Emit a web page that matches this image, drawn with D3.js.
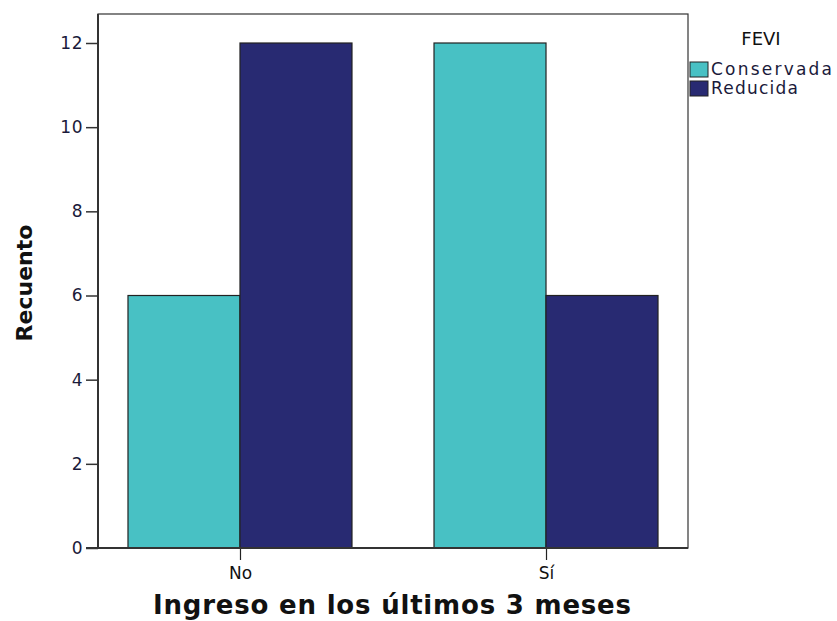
<!DOCTYPE html>
<html><head><meta charset="utf-8">
<script src="https://cdn.jsdelivr.net/npm/d3@7"></script>
<style>body{margin:0;background:#fff}svg{display:block}</style>
</head><body><svg id="c" width="837" height="621"></svg>
<script>
const categories = ["No", "Sí"];
const seriesNames = ["Conservada", "Reducida"];
const conservada = [6, 12];
const reducida = [12, 6];
const yTicks = [0, 2, 4, 6, 8, 10, 12];
const colors = ["#48C1C4", "#282A72"];

const svg = d3.select("#c");
const L = 98, R = 688, T = 14, B = 548;
const x = d3.scalePoint().domain(categories).range([L, R]).padding(0.464);
const y = d3.scaleLinear().domain([0, 12]).range([B, 43]);
const barW = 112;
const vals = [conservada, reducida];

// frame
svg.append("rect").attr("x", L).attr("y", T).attr("width", R - L).attr("height", B - T)
  .attr("fill", "#fff").attr("stroke", "#333").attr("stroke-width", 1.2);

// bars
seriesNames.forEach((s, si) => {
  svg.append("g").selectAll("rect").data(categories).join("rect")
    .attr("x", c => x(c) + (si === 0 ? -barW : 0))
    .attr("y", (c, i) => y(vals[si][i]))
    .attr("width", barW)
    .attr("height", (c, i) => y(0) - y(vals[si][i]))
    .attr("fill", colors[si]).attr("stroke", "#222").attr("stroke-width", 1.2);
});

// y axis
const ya = svg.append("g").attr("transform", `translate(${L},0)`)
  .call(d3.axisLeft(y).tickValues(yTicks).tickSize(12).tickPadding(3).tickFormat(d3.format("d")));
ya.select(".domain").attr("stroke", "#333").attr("stroke-width", 2).attr("d", `M0,${T}V${B}`);
ya.selectAll(".tick line").attr("stroke", "#333").attr("stroke-width", 1.5);
ya.selectAll("text").attr("font-family", "DejaVu Sans").attr("font-size", 17)
  .attr("fill", "#1a1a3a").attr("letter-spacing", 0.5);

// x axis
const xa = svg.append("g").attr("transform", `translate(0,${B})`)
  .call(d3.axisBottom(x).tickSize(12).tickPadding(7));
xa.select(".domain").remove();
xa.selectAll(".tick line").attr("stroke", "#222").attr("stroke-width", 1.2);
xa.selectAll("text").attr("font-family", "DejaVu Sans").attr("font-size", 17).attr("fill", "#111");
svg.append("line").attr("x1", L - 12).attr("x2", R).attr("y1", B).attr("y2", B)
  .attr("stroke", "#333").attr("stroke-width", 2);

// titles
svg.append("text").attr("x", 392).attr("y", 614).attr("text-anchor", "middle")
  .attr("font-family", "DejaVu Sans").attr("font-weight", "bold").attr("font-size", 26)
  .attr("textLength", 478).attr("lengthAdjust", "spacing")
  .attr("fill", "#111").text("Ingreso en los últimos 3 meses");
svg.append("text").attr("transform", "translate(32,283) rotate(-90)").attr("text-anchor", "middle")
  .attr("font-family", "DejaVu Sans").attr("font-weight", "bold").attr("font-size", 22)
  .attr("fill", "#111").text("Recuento");

// legend
svg.append("text").attr("x", 761).attr("y", 45).attr("text-anchor", "middle")
  .attr("font-family", "DejaVu Sans").attr("font-size", 18).attr("fill", "#111").text("FEVI");
const legendLen = [121, 87];
seriesNames.forEach((s, i) => {
  svg.append("rect").attr("x", 690).attr("y", 62 + i * 19).attr("width", 18).attr("height", 15)
    .attr("fill", colors[i]).attr("stroke", "#222").attr("stroke-width", 1);
  svg.append("text").attr("x", 711).attr("y", 75 + i * 19)
    .attr("font-family", "DejaVu Sans").attr("font-size", 17)
    .attr("textLength", legendLen[i]).attr("lengthAdjust", "spacing")
    .attr("fill", "#1a1a3a").text(s);
});
</script></body></html>
